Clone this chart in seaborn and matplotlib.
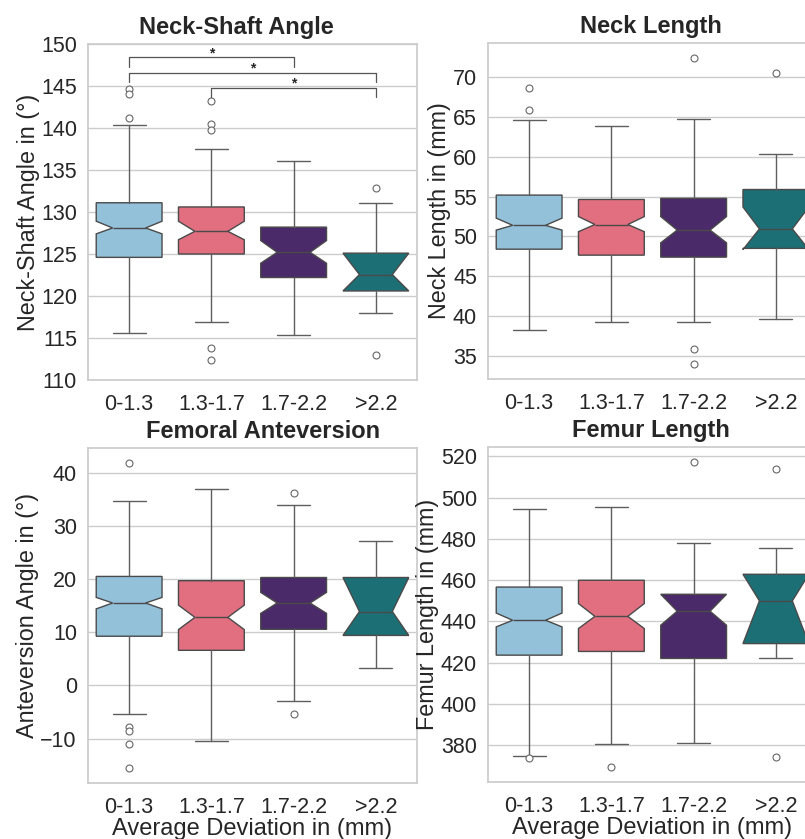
import matplotlib
matplotlib.use("Agg")
import matplotlib.pyplot as plt
import seaborn as sns

# groups (average deviation in mm) and their colours
groups = ["0-1.3", "1.3-1.7", "1.7-2.2", ">2.2"]
group_colors = ["#93c1da", "#e26f80", "#4b2a6a", "#1b6f75"]

# box statistics: q1, median, q3, whisker low/high, notch ci, fliers
nsa_q1 = [124.6, 125.0, 122.2, 120.6]
nsa_med = [128.1, 127.7, 125.2, 122.55]
nsa_q3 = [131.1, 130.6, 128.2, 125.1]
nsa_lo = [115.6, 116.9, 115.4, 118.0]
nsa_hi = [140.4, 137.55, 136.1, 131.1]
nsa_cilo = [127.4, 126.7, 123.9, 120.6]
nsa_cihi = [128.9, 128.9, 126.6, 125.1]
nsa_fliers = [[144.7, 144.0, 141.2], [143.2, 140.5, 139.8, 113.8, 112.4], [], [132.8, 113.0]]

nl_q1 = [48.4, 47.65, 47.4, 48.5]
nl_med = [51.4, 51.5, 50.8, 50.95]
nl_q3 = [55.2, 54.65, 54.8, 55.9]
nl_lo = [38.2, 39.3, 39.3, 39.6]
nl_hi = [64.6, 63.85, 64.75, 60.4]
nl_cilo = [50.8, 50.6, 49.2, 48.35]
nl_cihi = [52.3, 52.5, 52.5, 53.7]
nl_fliers = [[68.7, 65.9], [], [72.4, 35.9, 34.0], [70.6]]

fa_q1 = [9.25, 6.6, 10.55, 9.4]
fa_med = [15.5, 12.8, 15.5, 13.9]
fa_q3 = [20.5, 19.7, 20.3, 20.3]
fa_lo = [-5.4, -10.45, -2.9, 3.2]
fa_hi = [34.7, 37.0, 33.9, 27.25]
fa_cilo = [14.4, 10.5, 13.55, 9.4]
fa_cihi = [16.55, 15.1, 17.5, 20.3]
fa_fliers = [[41.8, -7.8, -8.55, -11.05, -15.5], [], [36.25, -5.45], []]

fl_q1 = [423.6, 425.4, 422.0, 429.2]
fl_med = [440.5, 442.4, 444.9, 449.9]
fl_q3 = [456.6, 459.9, 453.1, 462.8]
fl_lo = [374.9, 380.4, 381.1, 422.0]
fl_hi = [494.4, 495.3, 477.9, 475.5]
fl_cilo = [437.3, 436.5, 438.1, 429.2]
fl_cihi = [444.0, 448.6, 453.1, 462.8]
fl_fliers = [[373.6], [369.5], [517.1], [513.7, 374.4]]

titles = ["Neck-Shaft Angle", "Neck Length", "Femoral Anteversion", "Femur Length"]
ylabels = ["Neck-Shaft Angle in (°)", "Neck Length in (mm)", "Anteversion Angle in (°)", "Femur Length in (mm)"]
xlabel = "Average Deviation in (mm)"

# significance brackets on the neck-shaft angle panel
sig_pairs = [(0, 2), (0, 3), (1, 3)]
sig_heights = [148.4, 146.6, 144.8]
sig_drop = 1.1

sns.set_theme(style="whitegrid")
plt.rcParams["font.family"] = ["Liberation Sans", "DejaVu Sans"]
palette = sns.color_palette(group_colors)


def make_stats(q1, med, q3, lo, hi, cilo, cihi, fliers):
    stats = []
    for i in range(len(groups)):
        stats.append({"q1": q1[i], "med": med[i], "q3": q3[i], "whislo": lo[i], "whishi": hi[i],
                      "cilo": cilo[i], "cihi": cihi[i], "fliers": fliers[i], "label": groups[i]})
    return stats


panels = [
    make_stats(nsa_q1, nsa_med, nsa_q3, nsa_lo, nsa_hi, nsa_cilo, nsa_cihi, nsa_fliers),
    make_stats(nl_q1, nl_med, nl_q3, nl_lo, nl_hi, nl_cilo, nl_cihi, nl_fliers),
    make_stats(fa_q1, fa_med, fa_q3, fa_lo, fa_hi, fa_cilo, fa_cihi, fa_fliers),
    make_stats(fl_q1, fl_med, fl_q3, fl_lo, fl_hi, fl_cilo, fl_cihi, fl_fliers),
]

W, H = 805, 839
fig = plt.figure(figsize=(W / 100, H / 100), dpi=100)
# axes rectangles in pixels (left, top, right, bottom); right column runs off the canvas
rects = [(88, 44, 417, 380), (488, 43, 817, 379), (88, 448, 417, 783), (488, 447, 817, 782)]
title_x = [0.45, 0.495, 0.532, 0.495]

line_c = "#4a4a4a"
for k, (st, r) in enumerate(zip(panels, rects)):
    ax = fig.add_axes([r[0] / W, 1 - r[3] / H, (r[2] - r[0]) / W, (r[3] - r[1]) / H])
    bp = ax.bxp(st, positions=range(len(groups)), widths=0.8, shownotches=True, patch_artist=True,
                boxprops=dict(edgecolor=line_c, linewidth=1.0),
                whiskerprops=dict(color="#5e5e5e", linewidth=1.0),
                capprops=dict(color="#5e5e5e", linewidth=1.0),
                medianprops=dict(color=line_c, linewidth=1.0),
                flierprops=dict(marker="o", markersize=5, markerfacecolor="white",
                                markeredgecolor="#666666", markeredgewidth=0.8))
    for patch, c in zip(bp["boxes"], palette):
        patch.set_facecolor(c)
    ax.set_xlim(-0.5, len(groups) - 0.5)
    ax.set_xticks(range(len(groups)))
    ax.set_xticklabels(groups)
    ax.margins(y=0.05)
    ax.grid(axis="x", visible=False)
    ax.tick_params(labelsize=15.5)
    ax.tick_params(axis="y", pad=2)
    ax.tick_params(axis="x", pad=4)
    ax.set_title(titles[k], fontsize=17, fontweight="bold", pad=7, x=title_x[k])
    ax.set_ylabel(ylabels[k], fontsize=16.8, labelpad=1)
    if k >= 2:
        ax.set_xlabel(xlabel, fontsize=17, labelpad=0)
    if k == 0:
        ax.set_ylim(110, 150)
        ax.set_yticks(range(110, 151, 5))
        for (a, b), h in zip(sig_pairs, sig_heights):
            ax.plot([a, a, b, b], [h - sig_drop, h, h, h - sig_drop], color="#555555", lw=0.9)
            ax.text((a + b) / 2, h + 0.45, "*", ha="center", va="center", fontsize=10, fontweight="bold")
    elif k == 1:
        ax.set_yticks(range(35, 71, 5))
    elif k == 2:
        ax.set_yticks(range(-10, 41, 10))
    else:
        ax.set_yticks(range(380, 521, 20))

fig.savefig("out.png", dpi=100)
